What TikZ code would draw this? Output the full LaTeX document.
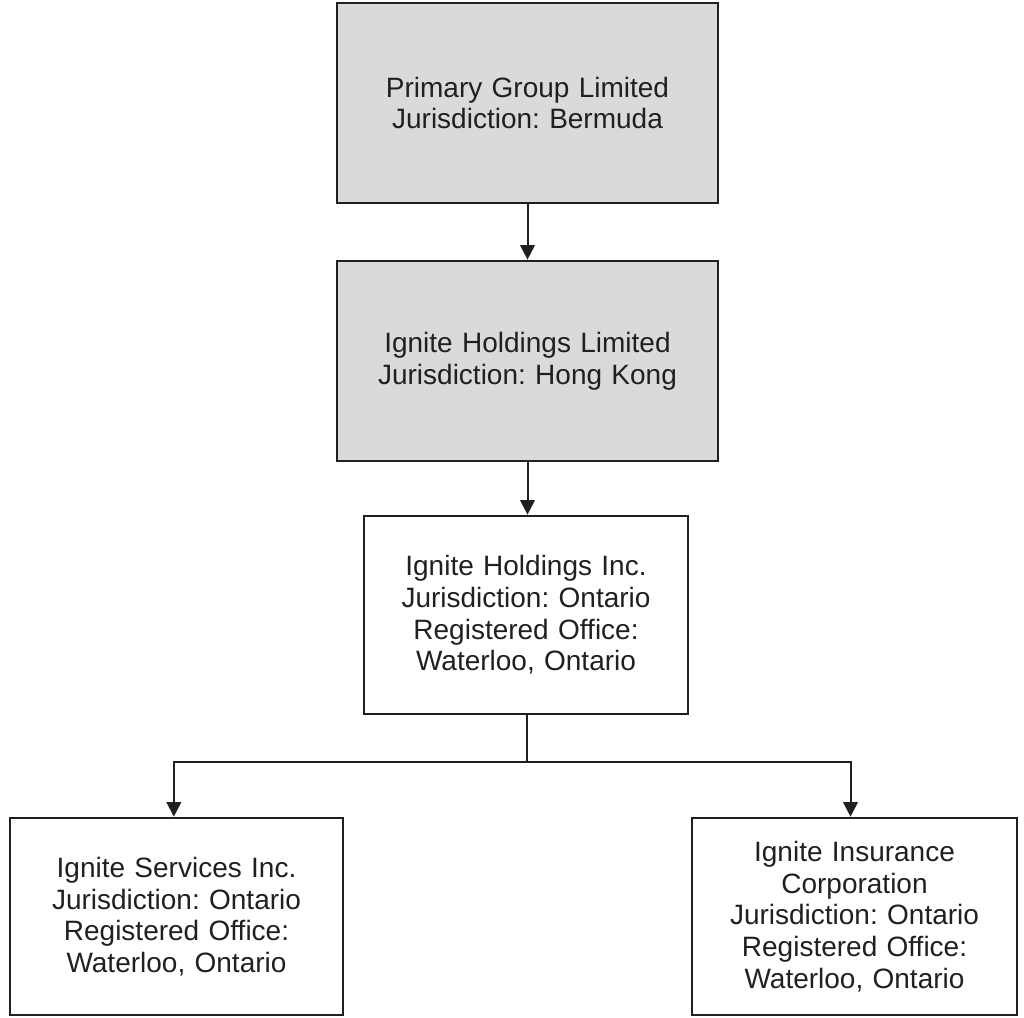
\documentclass[tikz,border=0pt]{standalone}
\usepackage{fontspec}
\setmainfont{Liberation Sans}
\frenchspacing
\usetikzlibrary{arrows.meta}
\definecolor{inkgray}{HTML}{231F20}
\definecolor{boxgray}{HTML}{DADADB}
\tikzset{
  font={\fontsize{21pt}{23.75pt}\selectfont},
  entity/.style={draw=inkgray, line width=2pt, text=inkgray, align=center,
    inner sep=0pt, minimum height=150pt},
  parent/.style={entity, fill=boxgray, text width=280pt, minimum width=285.75pt},
  sub/.style={entity, text width=240pt},
  link/.style={draw=inkgray, line width=1.5pt,
    -{Triangle[width=11pt,length=11pt]}}}

\begin{document}
\begin{tikzpicture}[x=0.75pt,y=-0.75pt]
\useasboundingbox (0,0) rectangle (1024,1017);
\node [parent] (pgl) at (527.5,103) {Primary Group Limited\\Jurisdiction: Bermuda};
\node [parent] (ihl) at (527.5,361) {Ignite Holdings Limited\\Jurisdiction: Hong Kong};
\node [sub, minimum width=243pt, minimum height=148.5pt] (ihi) at (526,615)
  {Ignite Holdings Inc.\\Jurisdiction: Ontario\\Registered Office:\\Waterloo, Ontario};
\node [sub, minimum width=249.75pt, minimum height=147.75pt] (isi) at (176.5,916.5)
  {Ignite Services Inc.\\Jurisdiction: Ontario\\Registered Office:\\Waterloo, Ontario};
\node [sub, minimum width=243.75pt, minimum height=147.75pt] (iic) at (854.5,916.5)
  {Ignite Insurance\\Corporation\\Jurisdiction: Ontario\\Registered Office:\\Waterloo, Ontario};
\coordinate (split) at (527,762);
% ownership
\draw [link] (pgl) -- (ihl);
\draw [link] (ihl.south) -- (ihl.south |- ihi.north);
\draw [inkgray, line width=1pt] (split |- ihi.south) -- (split);
\draw [link] (split) -| ([xshift=-2pt]isi.north);
\draw [link] (split) -| ([xshift=-3pt]iic.north);
\end{tikzpicture}
\end{document}
